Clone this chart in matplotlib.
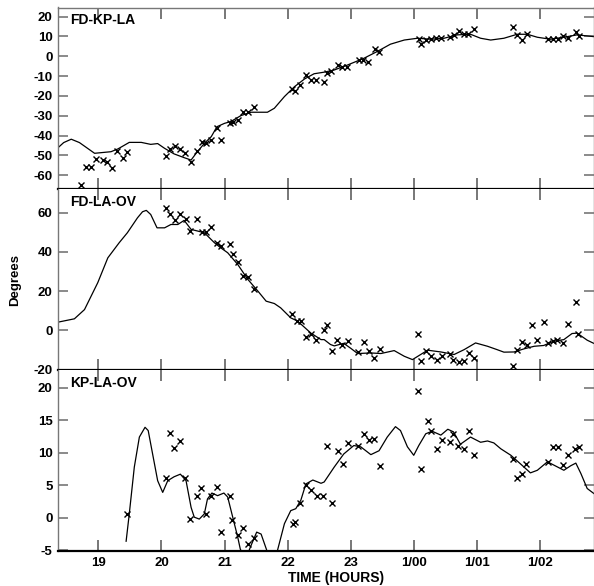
import matplotlib
matplotlib.use("Agg")
import matplotlib.pyplot as plt

plt.rcParams['font.family'] = ['Liberation Sans', 'DejaVu Sans']
plt.rcParams['font.weight'] = 'bold'

# ---------------- data ----------------
xticks = [19, 20, 21, 22, 23, 24, 25, 26]
xticklabels = ['19', '20', '21', '22', '23', '1/00', '1/01', '1/02']

# Panel 1: FD-KP-LA
p1_pts_t = [18.72, 18.80, 18.88, 18.96, 19.08, 19.14, 19.21, 19.30, 19.39, 19.46,
            20.08, 20.14, 20.21, 20.30, 20.38, 20.47, 20.57, 20.64, 20.71, 20.79,
            20.88, 20.95, 21.08, 21.14, 21.21, 21.30, 21.38, 21.46,
            22.07, 22.12, 22.20, 22.29, 22.37, 22.45, 22.57,
            22.63, 22.69, 22.80, 22.87, 22.94, 23.13, 23.20, 23.28, 23.38, 23.45,
            24.08, 24.12, 24.20, 24.28, 24.36, 24.44, 24.58, 24.64, 24.72, 24.79,
            24.86, 24.95, 25.57, 25.63, 25.71, 25.79,
            26.13, 26.21, 26.29, 26.37, 26.45, 26.58, 26.62]
p1_pts_v = [-64.9, -55.6, -55.6, -51.8, -52.3, -53.1, -56.1, -47.6, -51.1, -48.1,
            -50.1, -46.7, -45.2, -46.9, -48.9, -53.1, -47.6, -43.4, -43.9, -42.2,
            -36.3, -42.2, -33.4, -33.3, -32.1, -27.9, -28.2, -25.4,
            -16.5, -17.5, -14.5, -9.4, -11.9, -11.9, -13.1,
            -8.6, -7.4, -4.4, -5.2, -5.2, -1.8, -1.8, -2.7, 3.7, 2.0,
            8.7, 6.1, 8.2, 8.7, 9.1, 9.1, 9.9, 10.8, 12.9, 11.1,
            11.1, 13.8, 15.0, 10.8, 8.2, 11.3,
            8.6, 8.6, 8.6, 10.4, 9.1, 12.1, 10.3]
p1_line_t = [18.36, 18.45, 18.57, 18.70, 18.94, 19.20, 19.31, 19.49, 19.68, 19.83,
             19.94, 20.05, 20.20, 20.36, 20.47, 20.55, 20.68, 20.79, 20.88, 21.00,
             21.10, 21.26, 21.42, 21.53, 21.68, 21.79, 21.95, 22.11, 22.27, 22.42,
             22.58, 22.74, 22.95, 23.21, 23.42, 23.63, 23.85, 24.06, 24.27, 24.48,
             24.69, 24.90, 25.06, 25.22, 25.43, 25.64, 25.80, 25.96, 26.17, 26.38,
             26.59, 26.86]
p1_line_v = [-46.1, -43.5, -41.8, -43.5, -48.9, -48.1, -46.7, -43.4, -43.4, -44.4,
             -44.0, -46.4, -49.2, -51.1, -52.3, -48.9, -43.9, -40.5, -35.5, -33.8,
             -32.9, -29.9, -28.2, -28.2, -28.2, -26.2, -20.3, -15.3, -11.4, -8.8,
             -8.0, -6.9, -4.4, -1.0, 2.4, 6.1, 8.2, 9.1, 8.6, 9.1,
             10.8, 11.1, 9.1, 8.2, 9.1, 11.1, 11.1, 9.6, 8.6, 9.6,
             10.8, 9.9]

# Panel 2: FD-LA-OV
p2_pts_t = [20.07, 20.14, 20.21, 20.30, 20.39, 20.46, 20.57, 20.64, 20.71, 20.79,
            20.88, 20.95, 21.08, 21.13, 21.21, 21.30, 21.38, 21.46,
            22.07, 22.15, 22.21, 22.29, 22.37, 22.45, 22.57,
            22.63, 22.71, 22.79, 22.87, 22.95, 23.12, 23.21, 23.29, 23.37, 23.46,
            24.07, 24.12, 24.20, 24.28, 24.37, 24.45, 24.57, 24.63, 24.71, 24.79,
            24.88, 24.95, 25.57, 25.63, 25.71, 25.79, 25.87, 25.95, 26.06, 26.13,
            26.20, 26.27, 26.37, 26.45, 26.58, 26.61]
p2_pts_v = [62.2, 59.1, 56.1, 59.1, 56.9, 50.6, 56.6, 50.1, 50.3, 52.9,
            44.7, 43.0, 43.8, 38.7, 34.8, 27.7, 27.1, 21.2,
            8.4, 5.0, 5.0, -3.3, -1.8, -5.0, 0.1,
            2.5, -10.3, -4.7, -7.2, -5.2, -11.1, -5.8, -10.6, -14.0, -9.4,
            -1.8, -15.7, -10.6, -12.9, -14.9, -13.2, -11.8, -14.9, -16.3, -15.4,
            -11.5, -14.0, -18.3, -9.8, -6.0, -7.2, 3.0, -4.7, 4.2, -6.4,
            -5.2, -5.0, -6.4, 3.3, 14.6, -1.8]
p2_line_t = [18.36, 18.62, 18.78, 18.99, 19.15, 19.33, 19.46, 19.62, 19.70, 19.76,
             19.83, 19.93, 20.05, 20.15, 20.26, 20.36, 20.47, 20.68, 20.84, 20.94,
             21.05, 21.21, 21.37, 21.53, 21.66, 21.79, 21.89, 22.05, 22.16, 22.37,
             22.53, 22.58, 22.68, 22.74, 22.89, 23.00, 23.11, 23.32, 23.48, 23.69,
             23.85, 23.98, 24.11, 24.22, 24.43, 24.64, 24.80, 24.98, 25.17, 25.32,
             25.43, 25.59, 25.75, 25.91, 26.06, 26.22, 26.38, 26.51, 26.59, 26.75,
             26.86]
p2_line_v = [4.2, 5.9, 10.6, 24.3, 37.0, 44.7, 49.8, 57.4, 60.5, 61.2,
             59.1, 52.3, 52.3, 54.0, 54.0, 56.1, 51.5, 49.8, 44.7, 42.1,
             39.6, 33.6, 26.0, 20.0, 14.9, 13.7, 11.5, 6.4, 4.7, -1.4,
             -4.7, -4.7, -7.2, -7.9, -6.6, -9.1, -11.8, -11.5, -11.8, -10.3,
             -13.2, -14.9, -12.3, -10.1, -11.0, -12.3, -9.8, -6.4, -8.1, -9.8,
             -11.1, -11.0, -9.4, -8.1, -7.7, -5.5, -4.7, -1.6, -1.4, -5.0,
             -6.7]

# Panel 3: KP-LA-OV
p3_pts_t = [19.46, 20.07, 20.13, 20.20, 20.29, 20.37, 20.46, 20.57, 20.63, 20.71,
            20.79, 20.88, 20.95, 21.08, 21.12, 21.21, 21.30, 21.38, 21.46,
            22.08, 22.12, 22.20, 22.29, 22.37, 22.46, 22.56, 22.62,
            22.71, 22.80, 22.88, 22.96, 23.12, 23.21, 23.29, 23.37, 23.46,
            24.07, 24.12, 24.22, 24.28, 24.37, 24.45, 24.57, 24.63, 24.70, 24.79,
            24.88, 24.95, 25.57, 25.63, 25.71, 25.78,
            26.13, 26.20, 26.28, 26.37, 26.45, 26.55, 26.62]
p3_pts_v = [0.6, 6.1, 13.0, 10.7, 11.8, 6.1, -0.2, 3.4, 4.6, 0.6,
            3.4, 4.7, -2.2, 3.3, -0.3, -2.7, -1.5, -4.1, -3.1,
            -0.9, -0.7, 2.2, 5.0, 4.3, 3.3, 3.4, 11.1,
            2.2, 10.2, 8.3, 11.5, 11.1, 12.8, 12.0, 12.1, 7.9,
            19.4, 7.5, 14.9, 13.3, 10.6, 12.0, 11.7, 12.9, 11.1, 10.6,
            13.3, 9.6, 9.1, 6.1, 6.7, 8.2,
            8.6, 10.9, 10.9, 8.1, 9.7, 10.6, 10.8]
p3_line_t = [19.44, 19.49, 19.57, 19.65, 19.74, 19.79, 19.86, 19.94, 20.02, 20.10,
             20.20, 20.30, 20.39, 20.47, 20.52, 20.60, 20.68, 20.73, 20.80, 20.89,
             20.99, 21.05, 21.13, 21.21, 21.25, 21.33, 21.41, 21.51, 21.58, 21.67,
             21.72, 21.78, 21.84, 21.95, 22.05, 22.13, 22.21, 22.29, 22.40, 22.53,
             22.58, 22.74, 22.89, 23.05, 23.16, 23.32, 23.45, 23.58, 23.71, 23.79,
             23.90, 24.00, 24.08, 24.19, 24.29, 24.43, 24.54, 24.63, 24.74, 24.90,
             25.06, 25.17, 25.27, 25.38, 25.54, 25.69, 25.85, 25.96, 26.12, 26.28,
             26.38, 26.49, 26.57, 26.65, 26.75, 26.86]
p3_line_v = [-3.6, 0.6, 7.8, 12.4, 13.9, 13.4, 9.8, 5.7, 3.9, 5.7,
             6.3, 6.7, 5.7, 1.6, 0.1, -0.2, 0.6, 2.9, 3.8, 3.4,
             3.8, 3.2, 0.1, -3.0, -4.8, -6.5, -4.5, -2.2, -2.5, -5.0,
             -8.0, -8.0, -5.0, -0.9, 1.1, 1.4, 2.7, 5.2, 5.8, 5.3,
             5.5, 7.8, 9.8, 11.1, 10.9, 9.7, 10.3, 12.4, 14.0, 13.4,
             10.9, 9.6, 11.1, 12.9, 13.3, 12.7, 13.6, 13.2, 11.3, 12.4,
             11.6, 11.8, 11.5, 10.6, 9.6, 8.3, 6.9, 7.3, 8.6, 7.8,
             7.3, 8.0, 8.4, 6.8, 4.5, 3.7]

panels = [
    ('FD-KP-LA', p1_pts_t, p1_pts_v, p1_line_t, p1_line_v, (-66.9, 24.6),
     [20, 10, 0, -10, -20, -30, -40, -50, -60]),
    ('FD-LA-OV', p2_pts_t, p2_pts_v, p2_line_t, p2_line_v, (-20.2, 72.1),
     [60, 40, 20, 0, -20]),
    ('KP-LA-OV', p3_pts_t, p3_pts_v, p3_line_t, p3_line_v, (-5.1, 22.7),
     [20, 15, 10, 5, 0, -5]),
]

# ---------------- figure ----------------
W, H = 594, 586
fig = plt.figure(figsize=(W / 100, H / 100), dpi=100)

left = 58 / W
width = (593.5 - 58) / W
bounds = [(7.5, 189), (189, 370), (370, 551)]
gray = '#777777'

axes = []
for i, ((top_px, bot_px), (name, pt, pv, lt, lv, ylim, yt)) in enumerate(zip(bounds, panels)):
    ax = fig.add_axes([left, 1 - bot_px / H, width, (bot_px - top_px) / H])
    ax.plot(lt, lv, color='black', lw=0.9)
    ax.plot(pt, pv, linestyle='none', marker='x', color='black',
            markersize=5, markeredgewidth=1.0)
    ax.set_xlim(18.36, 26.85)
    ax.set_ylim(*ylim)
    ax.set_yticks(yt)
    ax.set_yticklabels([str(v) for v in yt])
    ax.set_xticks(xticks)
    if i == 2:
        ax.set_xticklabels(xticklabels)
    else:
        ax.set_xticklabels([])
    ax.tick_params(axis='x', direction='in', top=True, bottom=True, length=8,
                   width=1.4, color=gray, labelsize=9.5, pad=4)
    ax.tick_params(axis='y', direction='in', left=True, right=True, length=7,
                   width=1.2, color=gray, labelsize=9.5, pad=4)
    for lab in ax.get_xticklabels() + ax.get_yticklabels():
        lab.set_fontweight('bold')
    for s in ['left', 'right', 'top']:
        ax.spines[s].set_color(gray)
        ax.spines[s].set_linewidth(1.0)
    ax.spines['bottom'].set_color('black')
    ax.spines['bottom'].set_linewidth(1.6)
    if i > 0:
        ax.spines['top'].set_visible(False)
    ax.text(12 / (593.5 - 58), 1 - 6 / (bot_px - top_px), name,
            transform=ax.transAxes, ha='left', va='top',
            fontsize=10, fontweight='bold')
    axes.append(ax)

axes[1].set_ylabel('Degrees', fontsize=9.5, fontweight='bold', labelpad=9)
axes[2].set_xlabel('TIME (HOURS)', fontsize=10, fontweight='bold')
axes[2].xaxis.set_label_coords(0.52, -0.112)
axes[2].xaxis.label.set_va('top')

fig.savefig('out.png', dpi=100)
